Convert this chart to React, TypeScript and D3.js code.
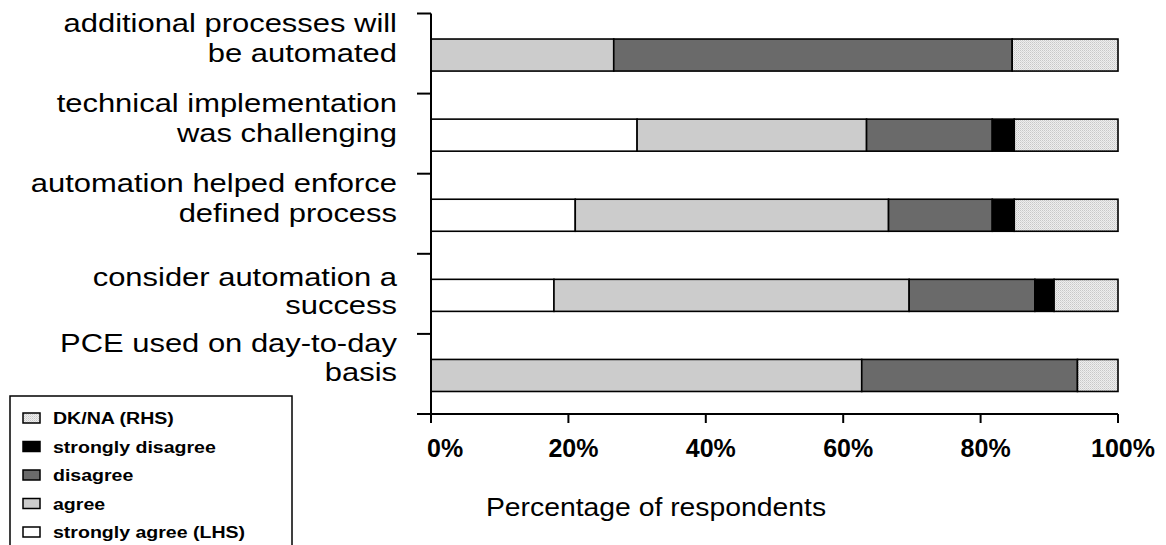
import React from "react";
import * as d3 from "d3";

// Survey statements (one bar each, top to bottom) and their wrapped label lines
const categories = [
  "additional processes will be automated",
  "technical implementation was challenging",
  "automation helped enforce defined process",
  "consider automation a success",
  "PCE used on day-to-day basis",
];
const labelLines = [
  ["additional processes will", "be automated"],
  ["technical implementation", "was challenging"],
  ["automation helped enforce", "defined process"],
  ["consider automation a", "success"],
  ["PCE used on day-to-day", "basis"],
];

// Share of respondents (%) per response
const stronglyAgree = [0, 30.0, 21.0, 17.9, 0];
const agree = [26.6, 33.4, 45.6, 51.7, 62.7];
const disagree = [58.0, 18.3, 15.1, 18.3, 31.4];
const stronglyDisagree = [0, 3.2, 3.2, 2.8, 0];
const dkna = [15.4, 15.1, 15.1, 9.3, 5.9];

const seriesKeys = ["sa", "a", "d", "sd", "dk"];
const seriesNames = ["strongly agree (LHS)", "agree", "disagree", "strongly disagree", "DK/NA (RHS)"];
const seriesFill = ["#ffffff", "#cccccc", "#6a6a6a", "#000000", "url(#dots)"];

const xTicks = [0, 20, 40, 60, 80, 100];

const W = 1166;
const H = 545;

// Label block placement relative to each band centre: [vertical shift, line spacing]
const labelLayout: [number, number][] = [
  [-16, 30],
  [-16, 30],
  [-16, 30],
  [-3, 28],
  [-16, 29],
];

export default function App() {
  const rows = categories.map((c, i) => ({
    cat: c,
    sa: stronglyAgree[i],
    a: agree[i],
    d: disagree[i],
    sd: stronglyDisagree[i],
    dk: dkna[i],
  }));
  const stacked = d3.stack<any>().keys(seriesKeys)(rows);

  const y0 = 13.5;
  const axisY = 414;
  const x = d3.scaleLinear().domain([0, 100]).range([431, 1118]);
  const y = d3.scaleBand<string>().domain(categories).range([y0, axisY]).paddingInner(0.6).paddingOuter(0.3);
  const step = (axisY - y0) / categories.length;
  const boundaries = d3.range(categories.length + 1).map((i) => y0 + i * step);

  const labelFont = "Liberation Sans, Arial, sans-serif";
  const legendOrder = [4, 3, 2, 1, 0];

  return (
    <svg width={W} height={H} style={{ position: "absolute", left: 0, top: 0, background: "#fff" }}>
      <defs>
        <pattern id="dots" width="2" height="2" patternUnits="userSpaceOnUse">
          <rect width="2" height="2" fill="#eeeeee" />
          <rect width="1" height="1" fill="#c8c8c8" />
          <rect x="1" y="1" width="1" height="1" fill="#d8d8d8" />
        </pattern>
      </defs>
      <rect width={W} height={H} fill="#fff" />

      {/* stacked bars */}
      {stacked.map((s, si) => (
        <g key={s.key}>
          {s.map((d, i) =>
            d[1] - d[0] > 0 ? (
              <rect
                key={i}
                x={x(d[0])}
                y={(y(categories[i]) as number) + 1.5}
                width={x(d[1]) - x(d[0])}
                height={y.bandwidth()}
                fill={seriesFill[si]}
                stroke="#000"
                strokeWidth={1.6}
              />
            ) : null
          )}
        </g>
      ))}

      {/* value axis */}
      <line x1={417} x2={x(100)} y1={axisY} y2={axisY} stroke="#000" strokeWidth={2} />
      {xTicks.map((t, i) => (
        <g key={t}>
          <line x1={x(t)} x2={x(t)} y1={axisY} y2={axisY + 9} stroke="#000" strokeWidth={2} />
          <text
            x={i === 0 ? x(t) - 4 : x(t) + 5}
            y={457}
            textAnchor={i === 0 ? "start" : "middle"}
            fontFamily={labelFont}
            fontWeight="bold"
            fontSize={25}
            fill="#000"
          >
            {t}%
          </text>
        </g>
      ))}

      {/* category axis */}
      <line x1={x(0)} x2={x(0)} y1={y0} y2={axisY + 9} stroke="#000" strokeWidth={2} />
      {boundaries.map((b, i) => (
        <line key={i} x1={417} x2={x(0)} y1={b} y2={b} stroke="#000" strokeWidth={2} />
      ))}
      {labelLines.map((lines, i) => {
        const [shift, lh] = labelLayout[i];
        const cy = (y(categories[i]) as number) + y.bandwidth() / 2 + shift;
        return (
          <g key={i} transform={`translate(397,${cy}) scale(1.19,1)`}>
            {lines.map((ln, j) => (
              <text
                key={j}
                x={0}
                y={(j - (lines.length - 1) / 2) * lh + 9}
                textAnchor="end"
                fontFamily={labelFont}
                fontSize={26}
                fill="#000"
              >
                {ln}
              </text>
            ))}
          </g>
        );
      })}

      {/* axis title */}
      <g transform={`translate(656,516) scale(1.09,1)`}>
        <text x={0} y={0} textAnchor="middle" fontFamily={labelFont} fontSize={26} fill="#000">
          Percentage of respondents
        </text>
      </g>

      {/* legend */}
      <rect x={10} y={396} width={282} height={170} fill="#fff" stroke="#000" strokeWidth={1.5} />
      {legendOrder.map((si, k) => {
        const cy = 418 + k * 28.5;
        return (
          <g key={si}>
            <rect x={23} y={cy - 5} width={17} height={10} fill={seriesFill[si]} stroke="#000" strokeWidth={1.5} />
            <g transform={`translate(53,${cy + 6}) scale(1.15,1)`}>
              <text x={0} y={0} fontFamily={labelFont} fontWeight="bold" fontSize={17} fill="#000">
                {seriesNames[si]}
              </text>
            </g>
          </g>
        );
      })}
    </svg>
  );
}
